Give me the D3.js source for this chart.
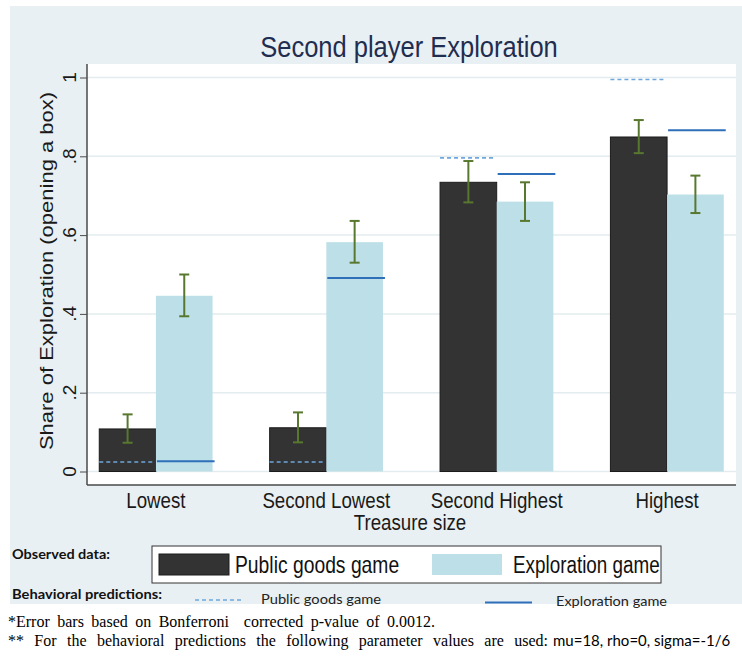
<!DOCTYPE html>
<html>
<head>
<meta charset="utf-8">
<script src="https://cdn.jsdelivr.net/npm/d3@7"></script>
<style>
  body { margin: 0; background: #ffffff; }
  svg { display: block; }
</style>
</head>
<body>
<svg id="chart" width="742" height="656"></svg>
<script>
// Treasure-size categories on the x axis
const categories = ["Lowest", "Second Lowest", "Second Highest", "Highest"];

// Observed share of exploration, public goods game (mean and error-bar bounds)
const publicGoods   = [0.108, 0.111, 0.734, 0.849];
const publicGoodsLo = [0.073, 0.074, 0.683, 0.808];
const publicGoodsHi = [0.145, 0.150, 0.788, 0.892];

// Observed share of exploration, exploration game
const exploration   = [0.446, 0.582, 0.685, 0.703];
const explorationLo = [0.394, 0.530, 0.636, 0.656];
const explorationHi = [0.500, 0.636, 0.734, 0.751];

// Behavioral model predictions
const predPublicGoods = [0.024, 0.024, 0.796, 0.995];
const predExploration = [0.026, 0.491, 0.755, 0.866];

// Y axis ticks
const yTicks = [0, 0.2, 0.4, 0.6, 0.8, 1];
const yTickLabels = ["0", ".2", ".4", ".6", ".8", "1"];

const svg = d3.select("#chart");

const C = {
  bg: "#e9f0f3",
  grid: "#e3ecef",
  dark: "#333333",
  darkStroke: "#1c1c1c",
  light: "#bddfe8",
  err: "#58782f",
  predDash: "#6ea6dd",
  predSolid: "#2f6fba",
  axis: "#4a4a4a",
  title: "#1f2d50"
};

const SANS = "'Liberation Sans', Arial, sans-serif";
const CAL = "Lato, 'Open Sans', sans-serif";
const SERIF = "'Liberation Serif', 'Times New Roman', serif";

// Text helper: Stata output is slightly tall-and-narrow, so glyphs get a non-uniform scale
function label(parent, str, x, y, o = {}) {
  const g = parent.append("g")
    .attr("transform", `translate(${x},${y}) rotate(${o.rotate || 0}) scale(${o.sx ?? 1},${o.sy ?? 1})`);
  const t = g.append("text")
    .attr("x", 0).attr("y", 0)
    .attr("text-anchor", o.anchor || "start")
    .attr("font-family", o.family || SANS)
    .attr("font-size", o.size || 22)
    .attr("font-weight", o.weight || "normal")
    .attr("fill", o.fill || "#111")
    .style("white-space", "pre")
    .text(str);
  if (o.baseline) t.attr("dominant-baseline", o.baseline);
  if (o.textLength) t.attr("textLength", o.textLength).attr("lengthAdjust", o.adjust || "spacingAndGlyphs");
  return t;
}

// Justify a line of text to a given width by widening the gaps between words
function justify(t, width) {
  const len = t.node().getComputedTextLength();
  const gaps = (t.text().match(/ /g) || []).length;
  if (gaps > 0 && width > len) t.attr("word-spacing", (width - len) / gaps);
}

// Graph background
svg.append("rect").attr("x", 10).attr("y", 6).attr("width", 732).attr("height", 598).attr("fill", C.bg);

// Plot region
const plot = { left: 87, right: 736, top: 64, bottom: 485 };
svg.append("rect")
  .attr("x", plot.left).attr("y", plot.top)
  .attr("width", plot.right - plot.left).attr("height", plot.bottom - plot.top)
  .attr("fill", "#ffffff");

const y = d3.scaleLinear().domain([0, 1]).range([471.5, 77.5]);
const x = d3.scaleBand().domain(categories)
  .range([plot.left, plot.right])
  .paddingInner(0.335).paddingOuter(0.072);
const sub = d3.scaleBand().domain(["pg", "ex"]).range([0, x.bandwidth()]);
const bw = sub.bandwidth();

// Gridlines
svg.append("g").selectAll("line").data(yTicks).join("line")
  .attr("x1", plot.left).attr("x2", plot.right)
  .attr("y1", d => y(d)).attr("y2", d => y(d))
  .attr("stroke", C.grid).attr("stroke-width", 1.5);

// Y axis with Stata-like rotated tick labels
const yAxis = svg.append("g").attr("transform", `translate(${plot.left},0)`)
  .call(d3.axisLeft(y).tickValues(yTicks).tickSize(7).tickFormat(""));
yAxis.select(".domain").remove();
yAxis.selectAll(".tick line").attr("stroke", C.axis).attr("stroke-width", 1);
svg.append("line")
  .attr("x1", plot.left).attr("x2", plot.left)
  .attr("y1", plot.top).attr("y2", plot.bottom)
  .attr("stroke", C.axis).attr("stroke-width", 1.5);
yTicks.forEach((v, i) => {
  label(svg, yTickLabels[i], 70, y(v), { rotate: -90, size: 19, sy: 0.92, anchor: "middle", baseline: "central", fill: "#1a1a1a" });
});

// X axis line along the bottom of the plot region
svg.append("line")
  .attr("x1", plot.left).attr("x2", plot.right)
  .attr("y1", plot.bottom).attr("y2", plot.bottom)
  .attr("stroke", C.axis).attr("stroke-width", 1.5);

// Category labels
const xAxis = svg.append("g").attr("transform", `translate(0,${plot.bottom})`)
  .call(d3.axisBottom(x).tickSize(0).tickFormat(""));
xAxis.select(".domain").remove();
categories.forEach(c => {
  label(svg, c, x(c) + x.bandwidth() / 2, 508, { size: 22, sx: 0.85, anchor: "middle", fill: "#1a1a1a" });
});

// Bars
const groups = svg.append("g").selectAll("g").data(categories).join("g")
  .attr("transform", d => `translate(${x(d)},0)`);

groups.append("rect")
  .attr("x", sub("pg")).attr("width", bw)
  .attr("y", (d, i) => y(publicGoods[i]))
  .attr("height", (d, i) => y(0) - y(publicGoods[i]))
  .attr("fill", C.dark).attr("stroke", C.darkStroke).attr("stroke-width", 1);

groups.append("rect")
  .attr("x", sub("ex")).attr("width", bw)
  .attr("y", (d, i) => y(exploration[i]))
  .attr("height", (d, i) => y(0) - y(exploration[i]))
  .attr("fill", C.light);

// Error bars
function errorBars(key, lo, hi) {
  const cx = sub(key) + bw / 2;
  const e = groups.append("g").attr("stroke", C.err).attr("stroke-width", 2);
  e.append("line").attr("x1", cx).attr("x2", cx)
    .attr("y1", (d, i) => y(lo[i])).attr("y2", (d, i) => y(hi[i]));
  [lo, hi].forEach(arr => {
    e.append("line").attr("x1", cx - 5).attr("x2", cx + 5)
      .attr("y1", (d, i) => y(arr[i])).attr("y2", (d, i) => y(arr[i]));
  });
}
errorBars("pg", publicGoodsLo, publicGoodsHi);
errorBars("ex", explorationLo, explorationHi);

// Behavioral predictions
groups.append("line")
  .attr("x1", sub("pg")).attr("x2", sub("pg") + bw - 3)
  .attr("y1", (d, i) => y(predPublicGoods[i])).attr("y2", (d, i) => y(predPublicGoods[i]))
  .attr("stroke", C.predDash).attr("stroke-width", 1.6).attr("stroke-dasharray", "4,3");
groups.append("line")
  .attr("x1", sub("ex") + 1).attr("x2", sub("ex") + bw + 2)
  .attr("y1", (d, i) => y(predExploration[i])).attr("y2", (d, i) => y(predExploration[i]))
  .attr("stroke", C.predSolid).attr("stroke-width", 2);

// Titles
label(svg, "Second player Exploration", 409, 57, { size: 30, sx: 0.85, anchor: "middle", fill: C.title });
label(svg, "Treasure size", 410, 530, { size: 22, sx: 0.85, anchor: "middle", fill: "#1a1a1a" });
label(svg, "Share of Exploration (opening a box)", 47, 271, { rotate: -90, size: 22, sy: 0.85, anchor: "middle", baseline: "central", fill: "#1a1a1a" });

// Legend for observed data
label(svg, "Observed data:", 12, 559, { family: CAL, size: 13, weight: "bold", textLength: 98 });
svg.append("rect").attr("x", 152).attr("y", 546).attr("width", 509).attr("height", 37)
  .attr("fill", "#ffffff").attr("stroke", "#333333").attr("stroke-width", 1);
svg.append("rect").attr("x", 159).attr("y", 554).attr("width", 70).attr("height", 21)
  .attr("fill", C.dark).attr("stroke", C.darkStroke);
label(svg, "Public goods game", 235, 573, { size: 23, sx: 0.84 });
svg.append("rect").attr("x", 432).attr("y", 554).attr("width", 70).attr("height", 21)
  .attr("fill", C.light);
label(svg, "Exploration game", 513, 573, { size: 23, sx: 0.82 });

// Legend for behavioral predictions
label(svg, "Behavioral predictions:", 12, 599, { family: CAL, size: 13, weight: "bold", textLength: 150 });
svg.append("line").attr("x1", 195).attr("x2", 243).attr("y1", 600).attr("y2", 600)
  .attr("stroke", C.predDash).attr("stroke-width", 1.6).attr("stroke-dasharray", "4,3");
label(svg, "Public goods game", 261, 604, { family: CAL, size: 13.5, fill: "#222", textLength: 120 });
svg.append("line").attr("x1", 485).attr("x2", 532).attr("y1", 602.5).attr("y2", 602.5)
  .attr("stroke", C.predSolid).attr("stroke-width", 2);
label(svg, "Exploration game", 556, 606, { family: CAL, size: 13.5, fill: "#222", textLength: 111 });

// Footnotes
const fn1 = label(svg, "*Error bars based on Bonferroni  corrected p-value of 0.0012.", 8, 627, { family: SERIF, size: 16, fill: "#000" });
justify(fn1, 427);
const fn2 = label(svg, "** For the behavioral predictions the following parameter values are used:", 8, 646, { family: SERIF, size: 16, fill: "#000" });
justify(fn2, 540);
label(svg, "mu=18, rho=0, sigma=-1/6", 553, 646, { family: CAL, size: 15, fill: "#000" });
</script>
</body>
</html>
